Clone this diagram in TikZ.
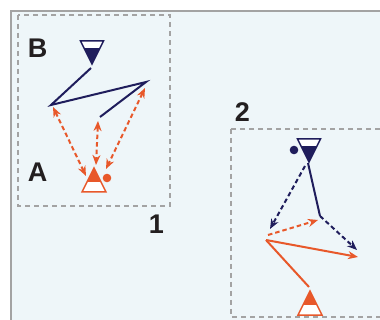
\documentclass[tikz,border=0pt]{standalone}
\usepackage{fontspec}
\setmainfont{Liberation Sans}
\usetikzlibrary{arrows.meta}
\definecolor{navyc}{HTML}{1F1D5C}
\definecolor{orangec}{HTML}{E8582A}
\definecolor{panelbg}{HTML}{EEF6F9}
\definecolor{framegray}{HTML}{A3A3A3}
\definecolor{inkc}{HTML}{231F20}
\tikzset{
  panelbox/.style={draw=framegray, line width=1.4pt, dash pattern=on 5pt off 4pt},
  lbl/.style={font=\bfseries\fontsize{27}{27}\selectfont, text=inkc, inner sep=0pt},
  navyline/.style={draw=navyc, line width=2pt},
  orangeline/.style={draw=orangec, line width=2pt},
  dashmove/.style={dash pattern=on 4.5pt off 3pt},
  tip/.style={-{Stealth[length=10pt,width=8pt]}},
  dtip/.style={{Stealth[length=10pt,width=8pt]}-{Stealth[length=10pt,width=8pt]}},
  navytri/.pic={
    \path[fill=white] (-11.5,-23) -- (11.5,-23) -- (0,0) -- cycle;
    \begin{scope}
      \clip (-11.5,-23) -- (11.5,-23) -- (0,0) -- cycle;
      \fill[navyc] (-13,-16) rectangle (13,1);
    \end{scope}
    \draw[navyc, line width=1.5pt, line join=miter] (-11.5,-23) -- (11.5,-23) -- (0,0) -- cycle;
  },
  orangetri/.pic={
    \path[fill=white] (-12,24) -- (12,24) -- (0,0) -- cycle;
    \begin{scope}
      \clip (-12,24) -- (12,24) -- (0,0) -- cycle;
      \fill[orangec] (-13,-1) rectangle (13,14);
    \end{scope}
    \draw[orangec, line width=1.5pt, line join=miter] (-12,24) -- (12,24) -- (0,0) -- cycle;
  }
}
\begin{document}
\begin{tikzpicture}[x=1pt,y=-1pt]
\useasboundingbox (0,0) rectangle (380,320);
\clip (0,0) rectangle (380,320);
% field background
\draw[fill=panelbg, draw=framegray, line width=1.5pt] (11,11) rectangle (390,330);
% exercise areas
\draw[panelbox] (18,15) rectangle (170,206);
\draw[panelbox] (231,129) rectangle (392,317);
% labels
\node[lbl] (lB) at (37.5,48) {B};
\node[lbl] (lA) at (37.5,172.5) {A};
\node[lbl] (l1) at (156.5,224) {1};
\node[lbl] (l2) at (242.5,111.7) {2};

% ---- area 1 ----
\pic at (92,64) {navytri};
\pic at (94,168) {orangetri};
\fill[orangec] (107,178) circle (4.3);
\coordinate (b0) at (91,68);
\coordinate (b1) at (51,105);
\coordinate (b2) at (146,82);
\coordinate (b3) at (100,117);
\draw[navyline, line join=miter] (b0) -- (b1) -- (b2) -- (b3);
\coordinate (a1) at (53,107);
\coordinate (a1e) at (86,176);
\coordinate (a2) at (98,121);
\coordinate (a2e) at (96,165);
\coordinate (a3) at (145,88);
\coordinate (a3e) at (106,169);
\draw[orangeline, dashmove, dtip] (a1) -- (a1e);
\draw[orangeline, dashmove, dtip] (a2) -- (a2e);
\draw[orangeline, dashmove, dtip] (a3) -- (a3e);

% ---- area 2 ----
\pic at (309,162) {navytri};
\pic at (310,291) {orangetri};
\fill[navyc] (294,150) circle (4.3);
\coordinate (n0) at (308,163);
\coordinate (n1) at (320,216);
\coordinate (n2) at (357,250);
\coordinate (n3) at (305,166);
\coordinate (n4) at (270,229);
\draw[navyline] (n0) -- (n1);
\draw[navyline, dashmove, tip] (n1) -- (n2);
\draw[navyline, dashmove, tip] (n3) -- (n4);
\coordinate (o0) at (309,287);
\coordinate (o1) at (266,240);
\coordinate (o2) at (358,257);
\coordinate (o3) at (268,235);
\coordinate (o4) at (318,220);
\draw[orangeline, line join=miter] (o0) -- (o1);
\draw[orangeline, tip] (o1) -- (o2);
\draw[orangeline, dashmove, tip] (o3) -- (o4);
\end{tikzpicture}
\end{document}
